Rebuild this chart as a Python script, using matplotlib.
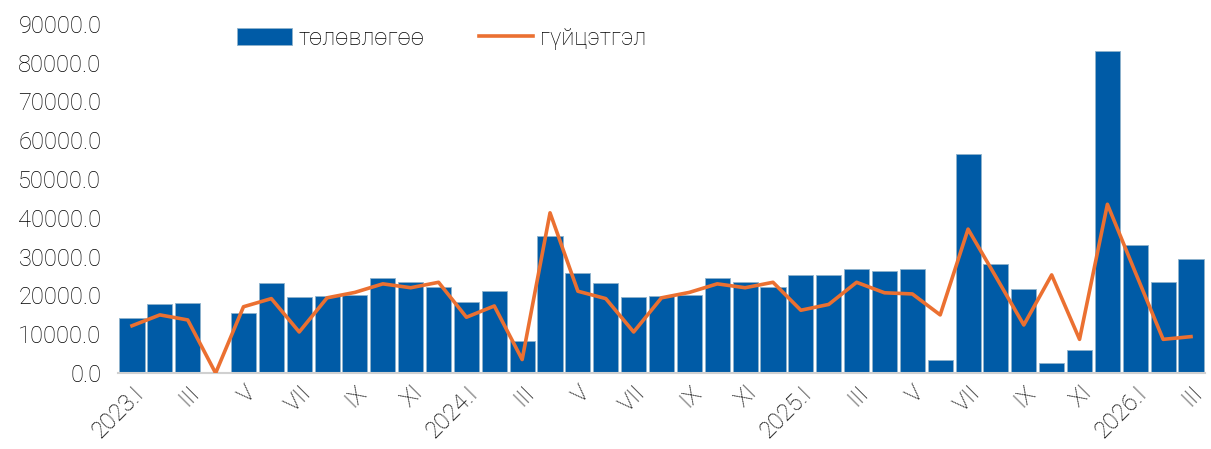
import matplotlib
matplotlib.use("Agg")
import matplotlib.pyplot as plt
import numpy as np

plt.rcParams["font.family"] = ["Roboto", "DejaVu Sans"]
plt.rcParams["font.weight"] = "light"

# ── data ──────────────────────────────────────────────────────────────────────

months = ["I", "II", "III", "IV", "V", "VI", "VII", "VIII", "IX", "X", "XI", "XII"]
categories = ([f"2023.{m}" if m == "I" else m for m in months]
              + [f"2024.{m}" if m == "I" else m for m in months]
              + [f"2025.{m}" if m == "I" else m for m in months]
              + ["2026.I", "II", "III"])

plan = [14100, 17800, 18100, 0, 15600, 23100, 19600, 19800, 20200, 24400, 23500, 22100,
        18200, 21200, 8300, 35400, 25900, 23100, 19600, 19800, 20200, 24400, 23500, 22100,
        25200, 25300, 26700, 26200, 26700, 3300, 56500, 28000, 21700, 2500, 6000, 83100,
        32900, 23400, 29300]

actual = [12200, 15000, 13700, 0, 17100, 19200, 10600, 19400, 20800, 23000, 22000, 23400,
          14400, 17300, 3500, 41300, 21100, 19200, 10600, 19400, 20800, 23000, 22000, 23400,
          16200, 17700, 23400, 20700, 20400, 15000, 37100, 24800, 12400, 25300, 8700, 43500,
          26000, 8700, 9400]

series_names = ["төлөвлөгөө", "гүйцэтгэл"]

BAR_COLOR = "#005BA6"
LINE_COLOR = "#EB7031"
TEXT_COLOR = "#000000"

# ── figure ────────────────────────────────────────────────────────────────────

fig = plt.figure(figsize=(12.11, 4.49), dpi=100)
ax = fig.add_axes([0.0975, 0.169, 0.8975, 0.778])

x = np.arange(len(categories))
bars = ax.bar(x, plan, width=0.9, color=BAR_COLOR, edgecolor="#8FB3CC", linewidth=0.6,
              zorder=2)
line, = ax.plot(x, actual, color=LINE_COLOR, linewidth=2.6, zorder=3)

ax.set_xlim(-0.5, len(categories) - 0.5)
ax.set_ylim(0, 90000)
ax.set_yticks(np.arange(0, 90001, 10000))
ax.set_yticklabels([f"{v:.1f}" for v in np.arange(0, 90001, 10000)])

ax.set_xticks(x[::2])
ax.set_xticklabels(categories[::2], rotation=45, ha="right", rotation_mode="anchor")

ax.tick_params(axis="both", length=0, labelsize=17, colors=TEXT_COLOR)
ax.tick_params(axis="y", pad=12)
ax.tick_params(axis="x", pad=6)

for side in ("top", "right", "left"):
    ax.spines[side].set_visible(False)
ax.spines["bottom"].set_color("#D0D0D0")
ax.spines["bottom"].set_linewidth(1.5)

leg = fig.legend([bars, line], series_names, loc="center",
                 bbox_to_anchor=(0.365, 0.915), ncol=2, frameon=False,
                 fontsize=17, handlelength=2.3, handleheight=0.7, handletextpad=0.3,
                 columnspacing=2.3)
for t in leg.get_texts():
    t.set_color(TEXT_COLOR)

fig.savefig("out.png", dpi=100)
